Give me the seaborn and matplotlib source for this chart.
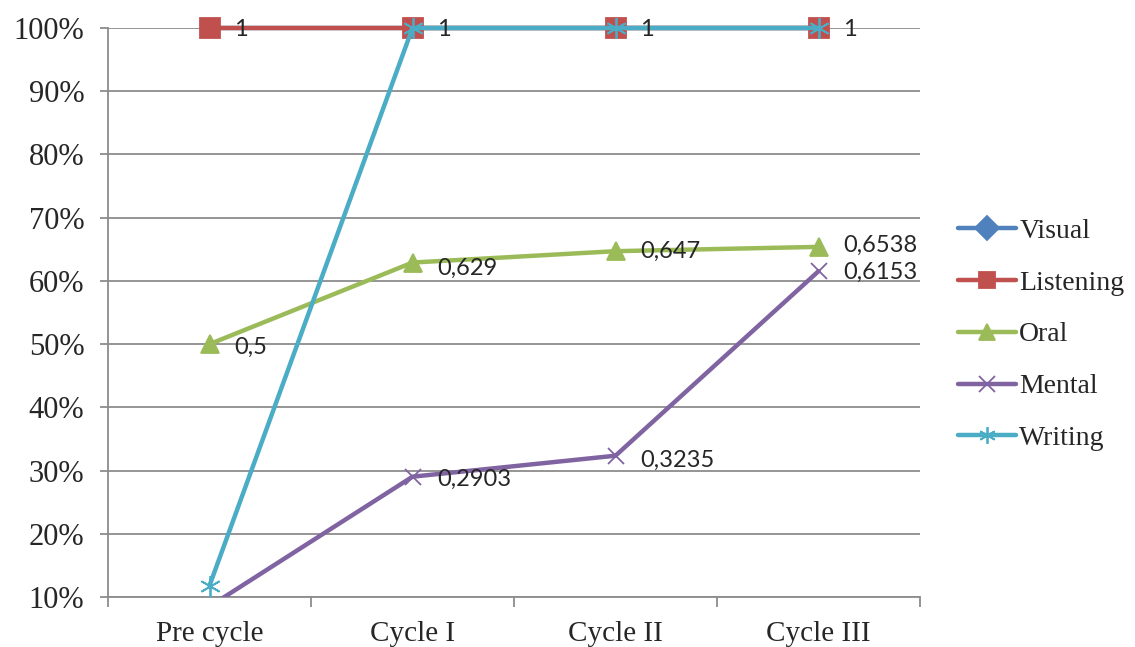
import numpy as np
import pandas as pd
import seaborn as sns
import matplotlib.pyplot as plt

cycles = ['Pre cycle', 'Cycle I', 'Cycle II', 'Cycle III']
series = ['Visual', 'Listening', 'Oral', 'Mental', 'Writing']
visual = [1, 1, 1, 1]
listening = [1, 1, 1, 1]
oral = [0.5, 0.629, 0.647, 0.6538]
mental = [0.085, 0.2903, 0.3235, 0.6153]
writing = [0.118, 1, 1, 1]

colors = ['#4F81BD', '#C0504D', '#9BBB59', '#8064A2', '#4BACC6']
markers = ['D', 's', '^', 'x', (6, 2, 0)]
sizes = [9, 14, 13, 12, 15]

df = pd.DataFrame({'cycle': cycles * 5,
                   'x': list(range(4)) * 5,
                   'series': np.repeat(series, 4),
                   'value': visual + listening + oral + mental + writing})

sns.set_style('white')
plt.rcParams['font.family'] = ['Liberation Serif', 'DejaVu Serif']

fig = plt.figure(figsize=(11.35, 6.47), dpi=100)
ax = fig.add_axes([108 / 1135, 1 - 597 / 647, 812 / 1135, 569 / 647])

ax.yaxis.grid(True, color='#8c8c8c', lw=1.3)
ax.set_axisbelow(True)

handles = []
for s, c, m, ms in zip(series, colors, markers, sizes):
    n0 = len(ax.get_lines())
    sns.lineplot(data=df[df.series == s], x='x', y='value', color=c,
                 marker=m, markersize=ms, markeredgecolor=c,
                 markeredgewidth=1.3, lw=3.2, ax=ax, legend=False, zorder=3)
    line = ax.get_lines()[n0]
    line.set_clip_on(s == 'Mental')
    line.set_label(s)
    handles.append(line)

# data labels
lab_font = ['Lato', 'DejaVu Sans']
def lab(x, y, txt, dy):
    ax.annotate(txt, (x, y), xytext=(18, dy), textcoords='offset points',
                fontsize=17, family=lab_font, va='center', ha='left',
                annotation_clip=False, zorder=5)

for i in range(4):
    lab(i, listening[i], '1', -1)
for i, dy in zip(range(4), [-2, -4, 0, 1]):
    lab(i, oral[i], str(oral[i]).replace('.', ','), dy)
for i, dy in zip(range(1, 4), [-2, -3, -1]):
    lab(i, mental[i], str(mental[i]).replace('.', ','), dy)

ax.set_xlim(-0.5, 3.5)
ax.set_ylim(0.1, 1.0)
yt = np.arange(0.1, 1.01, 0.1)
ax.set_yticks(yt)
ax.set_yticklabels([f'{int(round(v * 100))}%' for v in yt])
ax.set_xticks(range(4))
ax.set_xticklabels(cycles)
ax.set_xticks(np.arange(-0.5, 3.6, 1), minor=True)
ax.set_xlabel('')
ax.set_ylabel('')
ax.tick_params(axis='x', which='major', bottom=True, length=0, labelsize=21, pad=17)
ax.tick_params(axis='x', which='minor', bottom=True, length=7, color='#8c8c8c', width=1.3, direction='out')
ax.tick_params(axis='y', left=True, length=6, color='#8c8c8c', width=1.3, labelsize=22, pad=11, direction='out')

for sp in ['top', 'right']:
    ax.spines[sp].set_visible(False)
for sp in ['left', 'bottom']:
    ax.spines[sp].set_color('#8c8c8c')
    ax.spines[sp].set_linewidth(1.3)

leg = ax.legend(handles=handles, labels=series, loc='center left',
                bbox_to_anchor=(1.047, 0.461), frameon=False,
                fontsize=20, handlelength=2.1, handletextpad=0.1,
                labelspacing=0.95, borderaxespad=0, borderpad=0)
for h in leg.legend_handles:
    h.set_markersize(12)

fig.savefig('out.png', dpi=100)
